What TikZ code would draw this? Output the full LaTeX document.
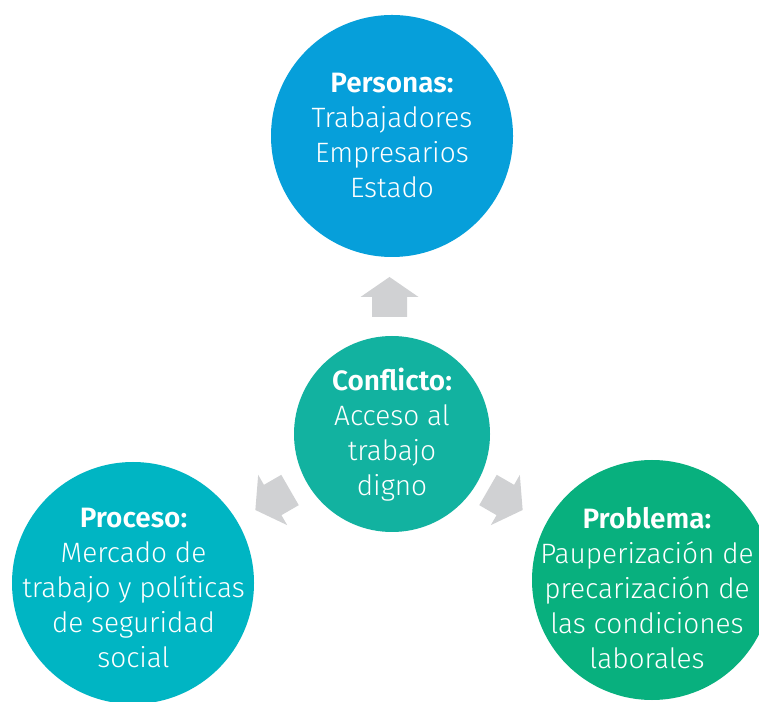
\documentclass[tikz,border=0pt]{standalone}
\usepackage{fontspec}
\setmainfont{Fira Sans Light}[BoldFont=Fira Sans SemiBold]
\definecolor{cblue}{HTML}{069FDA}
\definecolor{cteal}{HTML}{12B2A0}
\definecolor{ccyan}{HTML}{00B5C3}
\definecolor{cgreen}{HTML}{08B07E}
\definecolor{agray}{HTML}{D0D1D3}
\tikzset{
  bubble/.style={circle, inner sep=0pt, draw=none},
  bubbletext/.style={text=white, align=center, inner sep=0pt,
    font=\fontsize{28}{35}\selectfont},
  blockarrow/.style={fill=agray, draw=none}
}
\newcommand{\blockarr}[3]{%
  \path[blockarrow, shift={(#1,#2)}, rotate=#3]
    (0,-17.5) -- (20,-17.5) -- (20,-29) -- (40,0) -- (20,29) -- (20,17.5) -- (0,17.5) -- cycle;}
\begin{document}
\begin{tikzpicture}[x=1pt,y=1pt]
\clip (0,0) rectangle (759,701);
\fill[white] (0,0) rectangle (759,701);
\node[bubble, fill=cblue, minimum size=242pt] (top) at (392,565) {};
\node[bubbletext] (toptext) at (392,566)
  {\textbf{Personas:}\\Trabajadores\\Empresarios\\Estado};
\node[bubble, fill=cteal, minimum size=196pt] (mid) at (392,267) {};
\node[bubbletext] (midtext) at (392,266)
  {\textbf{Conflicto:}\\Acceso al\\trabajo\\digno};
\node[bubble, fill=ccyan, minimum size=242pt] (left) at (133,118) {};
\node[bubbletext] (lefttext) at (133.5,113)
  {\textbf{Proceso:}\\Mercado de\\trabajo y políticas\\de seguridad\\social};
\node[bubble, fill=cgreen, minimum size=240pt] (right) at (652,121) {};
\node[bubbletext] (righttext) at (647,113)
  {\textbf{Problema:}\\Pauperización de\\precarización de\\las condiciones\\laborales};
\blockarr{389.5}{384}{90}
\blockarr{290}{211}{210}
\blockarr{488}{211}{-30}
\end{tikzpicture}
\end{document}
